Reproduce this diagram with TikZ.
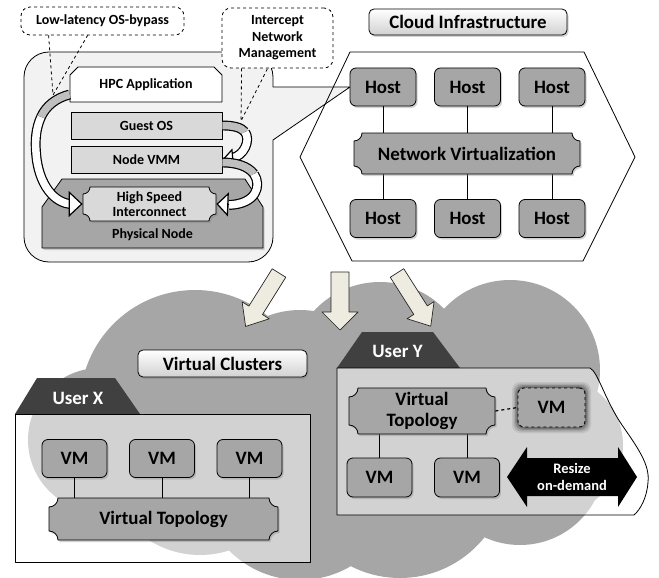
\documentclass[tikz,border=0pt]{standalone}
\usepackage{fontspec}
\setmainfont{Carlito}
\usetikzlibrary{shadows,calc,arrows.meta}
\definecolor{cfill}{HTML}{F2F2F2}
\definecolor{lgray}{HTML}{D9D9D9}
\definecolor{mgray}{HTML}{A6A6A6}
\definecolor{cgray}{HTML}{A6A6A6}
\definecolor{tabc}{HTML}{404040}
\definecolor{cream}{HTML}{EEECE1}
\newcommand\plaque[6]{%
 \path[#1] ({#2+#6},#3) -- ({#4-#6},#3) .. controls +(0,{0.55*#6}) and +({-0.55*#6},0) .. (#4,{#3+#6})
  -- (#4,{#5-#6}) .. controls +({-0.55*#6},0) and +(0,{-0.55*#6}) .. ({#4-#6},#5)
  -- ({#2+#6},#5) .. controls +(0,{-0.55*#6}) and +({0.55*#6},0) .. (#2,{#5-#6})
  -- (#2,{#3+#6}) .. controls +({0.55*#6},0) and +(0,{0.55*#6}) .. cycle;}
% block arrow: tail point, angle, length, shaft half width, head half width, head length
\newcommand\blockarrow[6]{%
 \begin{scope}[shift={#1},rotate=#2]
 \filldraw[fill=cream,draw=black!85,line width=0.7pt] (0,-#4) -- ({#3-#6},-#4) -- ({#3-#6},-#5) -- (#3,0)
   -- ({#3-#6},#5) -- ({#3-#6},#4) -- (0,#4) -- cycle;
 \end{scope}}
\begin{document}
\begin{tikzpicture}[x=1pt,y=-1pt,line join=round,line width=0.8pt,
 lbl/.style={font=\bfseries\fontsize{18.9}{22}\selectfont},
 sml/.style={font=\bfseries\fontsize{14}{16.5}\selectfont},
 shd/.style={drop shadow={opacity=0.35,shadow xshift=1.5pt,shadow yshift=-2pt}},
 hostbox/.style={draw,rounded corners=6,fill=mgray,minimum width=66,minimum height=38,inner sep=0,lbl,shd},
 vmbox/.style={draw,rounded corners=6,fill=mgray,minimum width=65,minimum height=38,inner sep=0,lbl,shd},
 titlebox/.style={draw,rounded corners=5,top color=white,bottom color=black!18,inner sep=0,lbl,shd},
 callbox/.style={draw,dashed,rounded corners=9,fill=white,inner sep=0,sml,align=center},
 layer/.style={draw,fill=lgray,minimum width=151,minimum height=27,inner sep=0,sml},
 band/.style={line width=1.2pt,double=white,double distance=7.5pt},
 bandg/.style={band,double=black!25},
 tabtext/.style={text=white,lbl}]
\useasboundingbox (0,0) rectangle (659,578);

% ---------- cloud ----------
\fill[cgray] (195,405) circle (115) (380,372) circle (90) (510,370) circle (90)
  (555,445) circle (68) (520,460) circle (85) (400,470) circle (108)
  (300,480) circle (100) (100,440) circle (72) (200,460) circle (95) (300,400) circle (90);

% ---------- callout ----------
\filldraw[fill=cfill] (24,77) arc (180:270:25) -- (248,52) arc (270:360:25) -- (273,87)
  -- (350,87) -- (273,140) -- (273,237) arc (0:90:25) -- (49,262) arc (90:180:25) -- cycle;

% ---------- hexagon ----------
\draw (350,52) -- (584,52) -- (635,157) -- (583,261) -- (352,261) -- (300,157) -- cycle;

% ---------- dashed callouts ----------
\node[callbox,minimum width=163,minimum height=28] (ll) at (102.5,21) {Low-latency OS-bypass};
\node[callbox,minimum width=111,minimum height=60] (ic) at (277.5,38) {Intercept\\Network\\Management};
\coordinate (llp) at (53,95);
\coordinate (icp) at (241,121);
\draw[dashed] ([xshift=28pt]ll.south west) -- (llp) -- ([xshift=67pt]ll.south west);
\draw[dashed] ([xshift=20pt]ic.south west) -- (icp) -- ([xshift=46pt]ic.south west);

% ---------- node stack ----------
\filldraw[fill=mgray,shd] (42,207) -- (62,179) -- (245,179) -- (263,207) -- (263,248) -- (42,248) -- cycle;
\node[sml] (phys) at (152.5,235) {Physical Node};
\plaque{draw,fill=lgray,shd}{83}{187}{216}{221}{7}
\node[sml,align=center,minimum width=133,minimum height=34,inner sep=0] (hsi) at (149.5,204) {High Speed\\[-1pt]Interconnect};
\filldraw[fill=white] (70,75) -- (78,67) -- (214,67) -- (222,75) -- (222,102) -- (70,102) -- cycle;
\node[sml,minimum width=152,minimum height=35,inner sep=0] (hpc) at (146,84.5) {HPC Application};
\node[layer] (gos) at (146.5,125.5) {Guest OS};
\node[layer] (vmm) at (146.5,159.5) {Node VMM};

% curved band arrows
\draw[bandg] ([yshift=-10pt]hpc.west) .. controls (56,98) and (46,106) .. (41,117);
\draw[band] (41,117) .. controls (36,128) and (35,140) .. (36,152) .. controls (38,185) and (55,204) .. (72,204);
\draw[line width=1.2pt,-{Triangle[length=14pt,width=26pt,fill=white]}] (69,204) -- (hsi.west);
\draw[bandg] (gos.east) .. controls (232,125.5) and (241,127) .. (245,132);
\draw[band] (245,132) .. controls (251,140) and (244,156) .. (232,158);
\draw[line width=1.2pt,-{Triangle[length=11pt,width=20pt,fill=white]}] (233,158.5) -- (vmm.east);
\draw[bandg] ([yshift=-3pt]vmm.east) .. controls (236,162.5) and (248,166) .. (254,174);
\draw[band] (254,174) .. controls (262,186) and (256,204) .. (229,205);
\draw[line width=1.2pt,-{Triangle[length=12pt,width=24pt,fill=white]}] (229,204.5) -- (hsi.east);

% ---------- cloud infrastructure ----------
\node[titlebox,minimum width=198,minimum height=26] (ci) at (468,22) {Cloud Infrastructure};
\node[hostbox] (h1) at (383,87) {Host};
\node[hostbox] (h2) at (467.5,87) {Host};
\node[hostbox] (h3) at (552,87) {Host};
\node[hostbox] (h4) at (383,218.5) {Host};
\node[hostbox] (h5) at (467.5,218.5) {Host};
\node[hostbox] (h6) at (552,218.5) {Host};
\node[minimum width=226,minimum height=41,inner sep=0] (nv) at (467,153.5) {};
\foreach \h in {h1,h2,h3} \draw (\h.south) -- (\h.south |- nv.north);
\foreach \h in {h4,h5,h6} \draw (\h.north) -- (\h.north |- nv.south);
\plaque{draw,fill=mgray,shd}{354}{133}{580}{174}{8}
\node[lbl] at (nv.center) {Network Virtualization};

% ---------- big arrows ----------
\blockarrow{(279,273)}{-122}{63}{8}{16}{19}
\blockarrow{(340,272)}{-90}{58}{9}{18}{18}
\blockarrow{(397,273)}{-57.6}{63}{8}{16}{19}

% ---------- virtual clusters ----------
\node[titlebox,minimum width=169,minimum height=27] (vc) at (222.5,363.5) {Virtual Clusters};

% User X
\fill[tabc] (15,414) -- (37,378) -- (115,378) -- (140,414) -- cycle;
\node[tabtext] (ux) at (78,398) {User X};
\filldraw[fill=white,fill opacity=0.5] (15,414) rectangle (310,562);
\node[vmbox] (x1) at (74.5,458.5) {VM};
\node[vmbox] (x2) at (162,458.5) {VM};
\node[vmbox] (x3) at (249.5,458.5) {VM};
\node[minimum width=229,minimum height=42,inner sep=0] (vtx) at (163.5,519) {};
\foreach \v in {x1,x2,x3} \draw (\v.south) -- (\v.south |- vtx.north);
\plaque{draw,fill=mgray,shd}{49}{498}{278}{540}{9}
\node[lbl] at (vtx.center) {Virtual Topology};

% User Y
\fill[tabc] (337,368) -- (362,332) -- (433,332) -- (460,368) -- cycle;
\node[tabtext] (uy) at (397.5,351) {User Y};
\filldraw[fill=white,fill opacity=0.5] (337,368) -- (590,368) .. controls (598,372) and (605,400) .. (622,425)
  .. controls (638,448) and (650,465) .. (648,482) .. controls (647,498) and (640,510) .. (634,515) -- (337,515) -- cycle;
\node[minimum width=146,minimum height=46,inner sep=0] (vty) at (422,411) {};
\node[vmbox,minimum height=39] (y1) at (379.5,477.5) {VM};
\node[vmbox,minimum height=39] (y2) at (467,477.5) {VM};
\foreach \v in {y1,y2} \draw (\v.north) -- (\v.north |- vty.south);
\plaque{draw,fill=mgray,shd}{349}{388}{495}{434}{9}
\node[lbl,align=center] at (vty.center) {Virtual\\[-1pt]Topology};
\foreach \s/\o in {6/0.08,4.5/0.12,3/0.18,1.5/0.25}
  \fill[black,opacity=\o,rounded corners=8] ({518-\s},{388-\s}) rectangle ({585+\s},{427+\s});
\node[draw,dashed,rounded corners=6,fill=mgray,minimum width=67,minimum height=39,inner sep=0,lbl] (vmd) at (551.5,407.5) {VM};
\draw[dashed,line width=1.2pt] (vty.east) -- (vmd.west);

% resize arrow
\fill[black] (507,477) -- (527,447) -- (527,458) -- (618,458) -- (618,447) -- (637,477)
  -- (618,507) -- (618,496) -- (527,496) -- (527,507) -- cycle;
\node[text=white,font=\bfseries\fontsize{14.5}{17}\selectfont,align=center] (rs) at (572,477) {Resize\\on-demand};
\end{tikzpicture}
\end{document}
